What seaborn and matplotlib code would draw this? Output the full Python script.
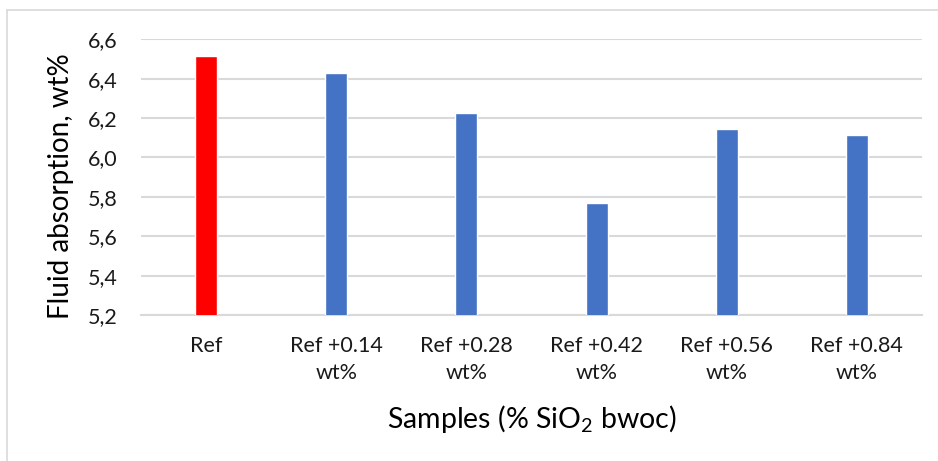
import matplotlib
matplotlib.use("Agg")
import matplotlib.pyplot as plt
import seaborn as sns
import pandas as pd
from matplotlib.lines import Line2D

categories = ["Ref", "Ref +0.14\nwt%", "Ref +0.28\nwt%", "Ref +0.42\nwt%", "Ref +0.56\nwt%", "Ref +0.84\nwt%"]
values = [6.515, 6.427, 6.224, 5.767, 6.143, 6.113]
bar_colors = ["#FF0000", "#4472C4", "#4472C4", "#4472C4", "#4472C4", "#4472C4"]
yticks = [5.2, 5.4, 5.6, 5.8, 6.0, 6.2, 6.4, 6.6]
ytick_labels = ["5,2", "5,4", "5,6", "5,8", "6,0", "6,2", "6,4", "6,6"]

sns.set_theme(style="white")
plt.rcParams["font.family"] = ["Lato", "DejaVu Sans"]
plt.rcParams["mathtext.default"] = "regular"

W, H = 938, 461
fig = plt.figure(figsize=(W / 100, H / 100), dpi=100)
ax_l, ax_r, ax_t, ax_b = 141, 922, 39.3, 315
ax = fig.add_axes([ax_l / W, 1 - ax_b / H, (ax_r - ax_l) / W, (ax_b - ax_t) / H])

df = pd.DataFrame({"cat": categories, "val": values})
sns.barplot(data=df, x="cat", y="val", hue="cat", palette=bar_colors,
            width=0.17, legend=False, ax=ax, saturation=1, zorder=3)

ax.set_ylim(5.2, 6.6)
ax.set_yticks(yticks)
ax.set_yticklabels(ytick_labels, fontsize=15.5, color="#1a1a1a")
ax.tick_params(axis="y", length=0, pad=17)
ax.tick_params(axis="x", length=0, pad=15)
for lbl in ax.get_xticklabels():
    lbl.set_fontsize(15.5)
    lbl.set_color("#1a1a1a")
    lbl.set_linespacing(1.45)
ax.grid(axis="y", color="#d9d9d9", linewidth=1.5, zorder=0)
ax.set_axisbelow(True)
for s in ["top", "right", "left"]:
    ax.spines[s].set_visible(False)
ax.spines["bottom"].set_color("#d9d9d9")
ax.spines["bottom"].set_linewidth(1.5)

ax.set_ylabel("Fluid absorption, wt%", fontsize=20, color="#000000")
ax.yaxis.label.set_va("center")
ax.yaxis.set_label_coords((61 - ax_l) / (ax_r - ax_l), (ax_b - 186) / (ax_b - ax_t))
ax.set_xlabel("Samples (% SiO$_2$ bwoc)", fontsize=20.5, color="#000000")
ax.xaxis.label.set_va("center")
ax.xaxis.set_label_coords(0.5, -(419 - ax_b) / (ax_b - ax_t))

# outer frame (left and top edges)
fig.add_artist(Line2D([7 / W, 7 / W], [0, 1 - 10 / H], transform=fig.transFigure, color="#d9d9d9", lw=1.2))
fig.add_artist(Line2D([7 / W, 1], [1 - 10 / H, 1 - 10 / H], transform=fig.transFigure, color="#d9d9d9", lw=1.2))

fig.savefig("out.png", dpi=100)
